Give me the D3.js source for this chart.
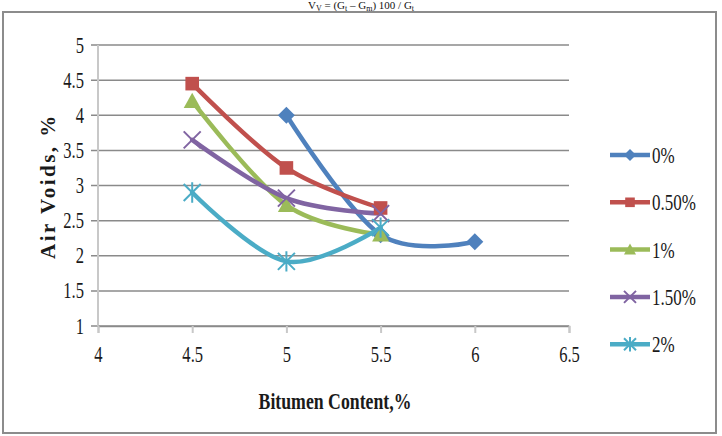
<!DOCTYPE html>
<html>
<head>
<meta charset="utf-8">
<script src="https://cdn.jsdelivr.net/npm/d3@7"></script>
<style>
  body { margin: 0; background: #fff; }
  text { font-family: "Liberation Serif", "DejaVu Serif", serif; }
</style>
</head>
<body>
<div id="chart"></div>
<script>
const xTicks = [4, 4.5, 5, 5.5, 6, 6.5];
const yTicks = [1, 1.5, 2, 2.5, 3, 3.5, 4, 4.5, 5];
const seriesNames = ['0%', '0.50%', '1%', '1.50%', '2%'];
const bitumen0 = [5, 5.5, 6];
const voids0 = [4.0, 2.3, 2.2];
const bitumen = [4.5, 5, 5.5];
const voids05 = [4.45, 3.25, 2.68];
const voids1 = [4.2, 2.72, 2.3];
const voids15 = [3.65, 2.82, 2.6];
const voids2 = [2.9, 1.92, 2.4];

const colors = ['#4f81bd', '#c0504d', '#9bbb59', '#8064a2', '#4bacc6'];
const markers = ['diamond', 'square', 'triangle', 'cross', 'star'];

const series = [
  { name: seriesNames[0], xs: bitumen0, ys: voids0 },
  { name: seriesNames[1], xs: bitumen, ys: voids05 },
  { name: seriesNames[2], xs: bitumen, ys: voids1 },
  { name: seriesNames[3], xs: bitumen, ys: voids15 },
  { name: seriesNames[4], xs: bitumen, ys: voids2 }
].map((s, i) => ({ ...s, color: colors[i], marker: markers[i],
  pts: s.xs.map((x, j) => [x, s.ys[j]]) }));

const width = 722, height = 436;
const svg = d3.select('#chart').append('svg')
  .attr('width', width).attr('height', height);

// outer frame
svg.append('rect')
  .attr('x', 3).attr('y', 12)
  .attr('width', 713).attr('height', 421)
  .attr('fill', '#fff').attr('stroke', '#8c8c8c').attr('stroke-width', 2);

// formula caption above the frame
const cap = svg.append('text')
  .attr('x', 361).attr('y', 9)
  .attr('text-anchor', 'middle')
  .style('font-size', '11px').attr('fill', '#111');
cap.append('tspan').text('V');
cap.append('tspan').attr('dy', 1.5).style('font-size', '8px').text('V');
cap.append('tspan').attr('dy', -1.5).text(' = (G');
cap.append('tspan').attr('dy', 1.5).style('font-size', '8px').text('t');
cap.append('tspan').attr('dy', -1.5).text(' \u2013 G');
cap.append('tspan').attr('dy', 1.5).style('font-size', '8px').text('m');
cap.append('tspan').attr('dy', -1.5).text(') 100 / G');
cap.append('tspan').attr('dy', 1.5).style('font-size', '8px').text('t');

const x = d3.scaleLinear().domain([4, 6.5]).range([98, 569]);
const y = d3.scaleLinear().domain([1, 5]).range([326, 45]);

// horizontal gridlines
svg.append('g')
  .selectAll('line')
  .data(yTicks)
  .join('line')
  .attr('x1', x(4) - 7).attr('x2', x(6.5))
  .attr('y1', d => y(d)).attr('y2', d => y(d))
  .attr('stroke', '#8a8a8a').attr('stroke-width', 1.5);

// y axis line
svg.append('line')
  .attr('x1', x(4)).attr('x2', x(4))
  .attr('y1', y(5)).attr('y2', y(1))
  .attr('stroke', '#c8c8c8').attr('stroke-width', 2);

// x axis
const xAxis = svg.append('g')
  .attr('transform', `translate(0,${y(1)})`)
  .call(d3.axisBottom(x).tickValues(xTicks).tickSize(7).tickFormat(d3.format('')));
xAxis.select('.domain').attr('stroke', '#8a8a8a').attr('stroke-width', 1.5);
xAxis.selectAll('.tick line').attr('stroke', '#c8c8c8').attr('stroke-width', 2);
xAxis.selectAll('.tick text')
  .attr('y', 0).attr('dy', 0)
  .attr('transform', 'translate(0,36) scale(0.72,1)')
  .style('font-size', '23px').attr('fill', '#1a1a1a');

// y tick labels
svg.append('g')
  .selectAll('text')
  .data(yTicks)
  .join('text')
  .attr('transform', d => `translate(84,${y(d) + 7.5}) scale(0.72,1)`)
  .attr('text-anchor', 'end')
  .style('font-size', '23px').attr('fill', '#1a1a1a')
  .text(d => d);

// axis titles
svg.append('text')
  .attr('transform', 'translate(335,409) scale(0.74,1)')
  .attr('text-anchor', 'middle')
  .style('font-size', '24px').style('font-weight', 'bold').attr('fill', '#1a1a1a')
  .text('Bitumen Content,%');

svg.append('text')
  .attr('transform', 'translate(55,186) rotate(-90)')
  .attr('text-anchor', 'middle')
  .style('font-size', '21px').style('font-weight', 'bold')
  .style('letter-spacing', '2.5px').attr('fill', '#1a1a1a')
  .text('Air Voids, %');

// marker drawing
function drawMarker(g, type, color, s) {
  if (type === 'diamond') {
    g.append('path').attr('d', `M0,${-s}L${s},0L0,${s}L${-s},0Z`).attr('fill', color);
  } else if (type === 'square') {
    g.append('rect').attr('x', -s * 0.8).attr('y', -s * 0.8)
      .attr('width', s * 1.6).attr('height', s * 1.6).attr('fill', color);
  } else if (type === 'triangle') {
    g.append('path').attr('d', `M0,${-s}L${s},${s * 0.8}L${-s},${s * 0.8}Z`).attr('fill', color);
  } else if (type === 'cross') {
    g.append('path').attr('d', `M${-s},${-s}L${s},${s}M${s},${-s}L${-s},${s}`)
      .attr('stroke', color).attr('stroke-width', 2);
  } else {
    g.append('path')
      .attr('d', `M${-s},${-s}L${s},${s}M${s},${-s}L${-s},${s}M0,${-s * 1.2}L0,${s * 1.2}`)
      .attr('stroke', color).attr('stroke-width', 2);
  }
}

const line = d3.line()
  .x(d => x(d[0])).y(d => y(d[1]))
  .curve(d3.curveCardinal.tension(0));

const plot = svg.append('g');
series.forEach(s => {
  plot.append('path')
    .attr('d', line(s.pts))
    .attr('fill', 'none')
    .attr('stroke', s.color)
    .attr('stroke-width', 4.5)
    .attr('stroke-linecap', 'round');
});
series.forEach(s => {
  s.pts.forEach(p => {
    const g = plot.append('g').attr('transform', `translate(${x(p[0])},${y(p[1])})`);
    drawMarker(g, s.marker, s.color, 8.5);
  });
});

// legend
const legend = svg.append('g');
series.forEach((s, i) => {
  const ly = 155 + i * 47.3;
  const g = legend.append('g').attr('transform', `translate(0,${ly})`);
  g.append('line').attr('x1', 610).attr('x2', 650).attr('y1', 0).attr('y2', 0)
    .attr('stroke', s.color).attr('stroke-width', 4.5);
  const m = g.append('g').attr('transform', 'translate(630,0)');
  drawMarker(m, s.marker, s.color, 6);
  g.append('text')
    .attr('transform', `translate(652,8) scale(0.74,1)`)
    .style('font-size', '23px').attr('fill', '#1a1a1a')
    .text(s.name);
});
</script>
</body>
</html>
